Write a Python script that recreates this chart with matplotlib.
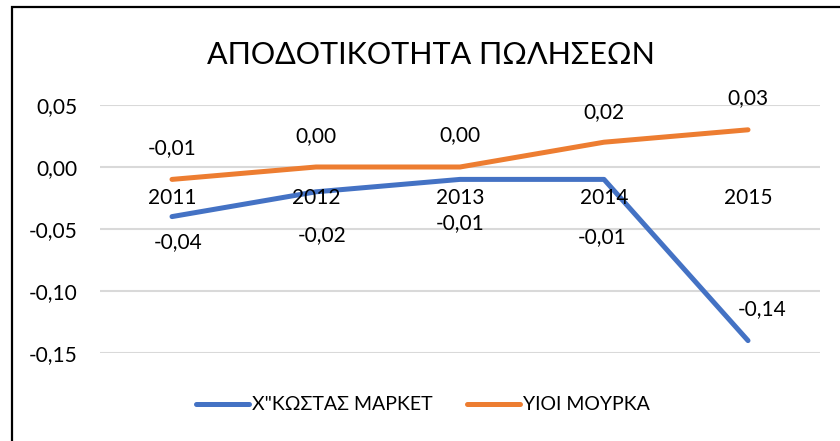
import matplotlib.pyplot as plt
from matplotlib.patches import Rectangle

plt.rcParams['font.family'] = ['Lato', 'DejaVu Sans']

years = ['2011', '2012', '2013', '2014', '2015']
kostas = [-0.04, -0.02, -0.01, -0.01, -0.14]
mourka = [-0.01, 0.00, 0.00, 0.02, 0.03]

# label offsets in pixels (dx, dy), as Excel placed them
kostas_off = [(6, -25), (6, -43), (0, -44), (-2, -58), (14, 32)]
mourka_off = [(0, 31), (0, 31), (0, 32), (0, 30), (0, 32)]

BLUE = '#4472C4'
ORANGE = '#ED7D31'
PX = 0.72  # points per pixel at dpi 100
FS = 15


def fmt(v):
    return f"{v:.2f}".replace('.', ',')


def main():
    fig = plt.figure(figsize=(8.4, 4.41), dpi=100)
    W, H = 840, 441
    ax = fig.add_axes([100 / W, 1 - 353 / H, 720 / W, 248 / H])

    x = range(len(years))
    ax.plot(x, kostas, color=BLUE, lw=3.6, solid_capstyle='round',
            label='Χ"ΚΩΣΤΑΣ ΜΑΡΚΕΤ')
    ax.plot(x, mourka, color=ORANGE, lw=3.6, solid_capstyle='round',
            label='ΥΙΟΙ ΜΟΥΡΚΑ')

    for i, v in enumerate(kostas):
        dx, dy = kostas_off[i]
        ax.annotate(fmt(v), (i, v), xytext=(dx * PX, dy * PX),
                    textcoords='offset points', ha='center', va='center',
                    fontsize=FS)
    for i, v in enumerate(mourka):
        dx, dy = mourka_off[i]
        ax.annotate(fmt(v), (i, v), xytext=(dx * PX, dy * PX),
                    textcoords='offset points', ha='center', va='center',
                    fontsize=FS)

    # category labels sit next to the zero line
    for i, yr in enumerate(years):
        ax.annotate(yr, (i, 0), xytext=(0, -31 * PX),
                    textcoords='offset points', ha='center', va='center',
                    fontsize=FS)

    ax.set_xlim(-0.5, len(years) - 0.5)
    ax.set_ylim(-0.15, 0.05)
    ax.set_yticks([0.05, 0.0, -0.05, -0.10, -0.15])
    ax.set_yticklabels([fmt(t) for t in [0.05, 0.0, -0.05, -0.10, -0.15]])
    ax.set_xticks([])
    ax.tick_params(axis='y', length=0, pad=16, labelsize=FS)
    ax.grid(axis='y', color='#D9D9D9', lw=1.5)
    ax.set_axisbelow(True)
    for s in ax.spines.values():
        s.set_visible(False)

    fig.text(431 / W, 1 - 55 / H, 'ΑΠΟΔΟΤΙΚΟΤΗΤΑ ΠΩΛΗΣΕΩΝ', ha='center',
             va='center', fontsize=22)

    fig.legend(loc='center', bbox_to_anchor=(423 / W, 1 - 405 / H), ncol=2,
               frameon=False, fontsize=14, handlelength=2.7,
               handletextpad=0.15, columnspacing=1.8)

    fig.patches.append(Rectangle((11.5 / W, -0.1), 1.2, 1.1 - 7 / H,
                                 transform=fig.transFigure, fill=False,
                                 edgecolor='black', lw=1.6))

    fig.savefig('out.png', dpi=100)


if __name__ == "__main__":
    main()
